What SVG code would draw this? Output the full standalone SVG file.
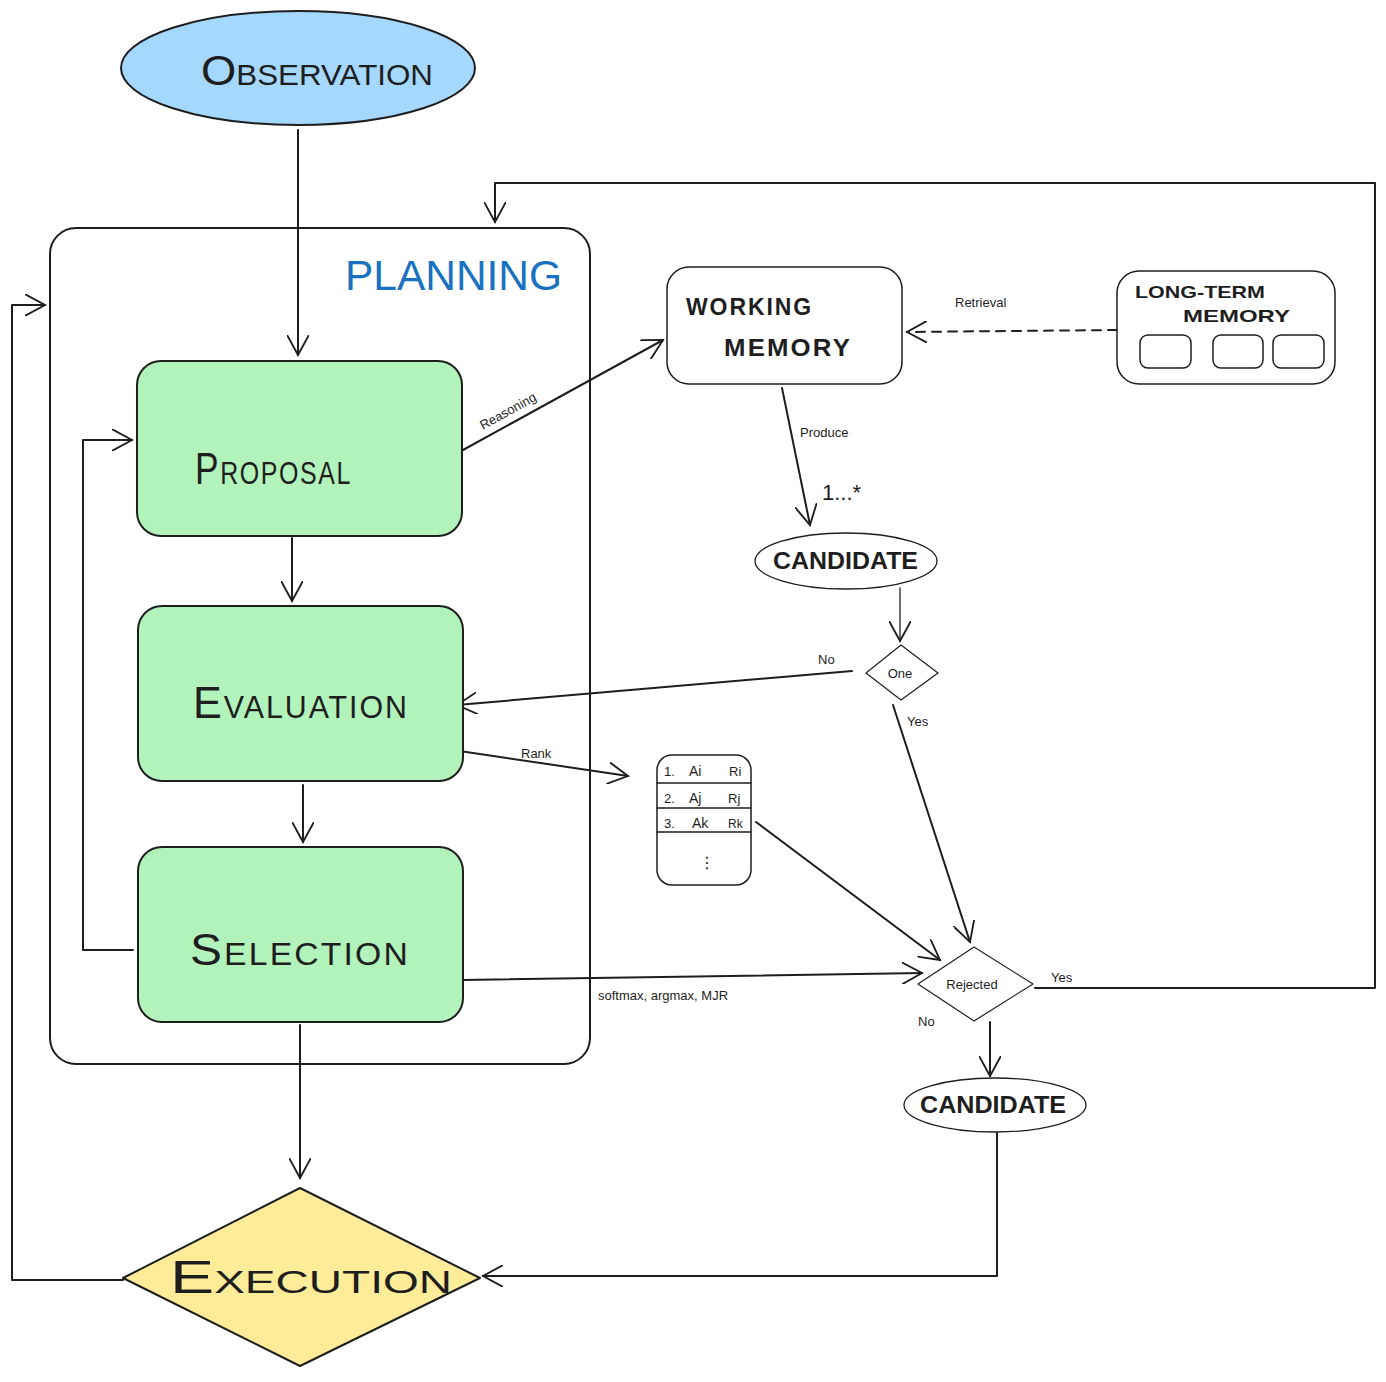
<svg xmlns="http://www.w3.org/2000/svg" width="1386" height="1382" viewBox="0 0 1386 1382">
<style>
.ln{fill:none;stroke:#1e1e1e;stroke-width:2;stroke-linecap:round;stroke-linejoin:round}
.thin{fill:none;stroke:#1e1e1e;stroke-width:1.3;stroke-linecap:round;stroke-linejoin:round}
.dash{stroke-dasharray:9 7}
.box{fill:#b2f2bb;stroke:#1e1e1e;stroke-width:2}
.wbox{fill:#ffffff;stroke:#1e1e1e;stroke-width:1.5}
.t{font-family:"Liberation Sans","DejaVu Sans",sans-serif;fill:#1e1e1e}
.big{font-size:44px;font-variant:small-caps;letter-spacing:2px}
.mid{font-size:24px;font-weight:bold;letter-spacing:2px}
.sm{font-size:13px}
</style>
<defs>
<marker id="ah" viewBox="0 0 12 12" refX="11" refY="6" markerWidth="12" markerHeight="12" markerUnits="userSpaceOnUse" orient="auto">
<path d="M0,0 L11,6 L0,12" fill="none" stroke="#1e1e1e" stroke-width="1.6"/>
</marker>
<marker id="ahb" viewBox="0 0 12 12" refX="11" refY="6" markerWidth="22" markerHeight="22" markerUnits="userSpaceOnUse" orient="auto">
<path d="M0,0 L11,6 L0,12" fill="none" stroke="#1e1e1e" stroke-width="1"/>
</marker>
</defs>

<g id="connectors">
<path class="ln" d="M298,130 L298,355" marker-end="url(#ahb)"/>
<path class="ln" d="M292,538 L292,601" marker-end="url(#ahb)"/>
<path class="ln" d="M303,785 L303,842" marker-end="url(#ahb)"/>
<path class="ln" d="M133,950 L83,950 L83,440 L132,440" marker-end="url(#ahb)"/>
<path class="ln" d="M300,1025 L300,1178" marker-end="url(#ahb)"/>
<path class="ln" d="M123,1280 L12,1280 L12,305 L45,305" marker-end="url(#ahb)"/>
<path class="ln" d="M1035,988 L1375,988 L1375,183 L495,183 L495,222" marker-end="url(#ahb)"/>
<path class="ln" d="M463,450 L663,340" marker-end="url(#ahb)"/>
<path class="ln dash" d="M1117,330 L907,332" marker-end="url(#ahb)"/>
<path class="ln" d="M782,388 L810,525" marker-end="url(#ahb)"/>
<path class="thin" d="M900,588 L900,641" marker-end="url(#ahb)"/>
<path class="ln" d="M852,671 L457,705" marker-end="url(#ahb)"/>
<path class="ln" d="M893,705 L970,942" marker-end="url(#ahb)"/>
<path class="ln" d="M453,750 L628,776" marker-end="url(#ahb)"/>
<path class="ln" d="M756,822 L940,960" marker-end="url(#ahb)"/>
<path class="ln" d="M463,980 L922,973" marker-end="url(#ahb)"/>
<path class="ln" d="M990,1022 L990,1076" marker-end="url(#ahb)"/>
<path class="ln" d="M997,1133 L997,1276 L483,1276" marker-end="url(#ahb)"/>
<text class="t sm" transform="translate(483,430) rotate(-29)">Reasoning</text>
<text class="t sm" x="955" y="307">Retrieval</text>
<text class="t sm" x="800" y="437">Produce</text>
<text class="t" x="822" y="500" font-size="22">1...*</text>
<text class="t sm" x="818" y="664" font-size="11">No</text>
<text class="t sm" x="907" y="726" font-size="11">Yes</text>
<text class="t sm" x="521" y="758" font-size="12">Rank</text>
<text class="t sm" x="598" y="1000" font-size="12">softmax, argmax, MJR</text>
<text class="t sm" x="1051" y="982" font-size="12">Yes</text>
<text class="t sm" x="918" y="1026" font-size="11">No</text>
</g>

<g id="observation">
<ellipse cx="298" cy="68" rx="177" ry="57" fill="#a5d8ff" stroke="#1e1e1e" stroke-width="2"/>
<text class="t" x="317" y="85" text-anchor="middle" font-size="42" font-variant="small-caps" textLength="232" lengthAdjust="spacingAndGlyphs">Observation</text>
</g>

<g id="planning">
<rect x="50" y="228" width="540" height="836" rx="26" fill="none" stroke="#1e1e1e" stroke-width="2"/>
<text class="t" x="345" y="290" font-size="42" fill="#1971c2" style="fill:#1971c2" textLength="217" lengthAdjust="spacingAndGlyphs">PLANNING</text>
</g>

<g id="proposal">
<rect class="box" x="137" y="361" width="325" height="175" rx="24"/>
<text class="t big" x="195" y="484" textLength="157" lengthAdjust="spacingAndGlyphs">Proposal</text>
</g>

<g id="evaluation">
<rect class="box" x="138" y="606" width="325" height="175" rx="24"/>
<text class="t big" x="193" y="718" textLength="216" lengthAdjust="spacingAndGlyphs">Evaluation</text>
</g>

<g id="selection">
<rect class="box" x="138" y="847" width="325" height="175" rx="24"/>
<text class="t big" x="190" y="965" textLength="220" lengthAdjust="spacingAndGlyphs">Selection</text>
</g>

<g id="execution">
<polygon points="123,1278 300,1188 480,1278 300,1366" fill="#ffec99" stroke="#1e1e1e" stroke-width="2" stroke-linejoin="round"/>
<text class="t" x="170" y="1293" font-size="46" font-variant="small-caps" textLength="282" lengthAdjust="spacingAndGlyphs">Execution</text>
</g>

<g id="working-memory">
<rect class="wbox" x="667" y="267" width="235" height="117" rx="22"/>
<text class="t mid" x="686" y="315" textLength="127" lengthAdjust="spacingAndGlyphs">WORKING</text>
<text class="t mid" x="724" y="356" textLength="128" lengthAdjust="spacingAndGlyphs">MEMORY</text>
</g>

<g id="long-term-memory">
<rect class="wbox" x="1117" y="271" width="218" height="113" rx="22"/>
<text class="t" x="1135" y="298" font-size="17" font-weight="bold" textLength="130" lengthAdjust="spacingAndGlyphs">LONG-TERM</text>
<text class="t" x="1183" y="322" font-size="17" font-weight="bold" textLength="107" lengthAdjust="spacingAndGlyphs">MEMORY</text>
<rect class="wbox" x="1140" y="335" width="51" height="33" rx="8"/>
<rect class="wbox" x="1213" y="335" width="50" height="33" rx="8"/>
<rect class="wbox" x="1273" y="335" width="51" height="33" rx="8"/>
</g>

<g id="candidate-1">
<ellipse cx="846" cy="561" rx="91" ry="28" fill="#ffffff" stroke="#1e1e1e" stroke-width="1.3"/>
<text class="t" x="773" y="569" font-size="23" font-weight="bold" textLength="145" lengthAdjust="spacingAndGlyphs">CANDIDATE</text>
</g>

<g id="one-decision">
<polygon points="866,673 901,645 938,673 901,700" fill="#ffffff" stroke="#1e1e1e" stroke-width="1.2" stroke-linejoin="round"/>
<text class="t" x="900" y="678" font-size="13" text-anchor="middle">One</text>
</g>

<g id="rank-table">
<rect class="wbox" x="657" y="755" width="94" height="130" rx="15" stroke-width="1.2"/>
<path class="thin" d="M657,783 L751,783 M657,808 L751,808 M657,832 L751,832"/>
<text class="t" x="664" y="776" font-size="13">1.</text>
<text class="t" x="689" y="776" font-size="14">Ai</text>
<text class="t" x="729" y="776" font-size="13">Ri</text>
<text class="t" x="664" y="803" font-size="13">2.</text>
<text class="t" x="689" y="803" font-size="14">Aj</text>
<text class="t" x="728" y="803" font-size="13">Rj</text>
<text class="t" x="664" y="828" font-size="13">3.</text>
<text class="t" x="692" y="828" font-size="14">Ak</text>
<text class="t" x="728" y="828" font-size="12">Rk</text>
<text class="t" x="699" y="868" font-size="16">⋮</text>
</g>

<g id="rejected-decision">
<polygon points="918,984 974,947 1033,984 974,1021" fill="#ffffff" stroke="#1e1e1e" stroke-width="1.2" stroke-linejoin="round"/>
<text class="t" x="972" y="989" font-size="13" text-anchor="middle">Rejected</text>
</g>

<g id="candidate-2">
<ellipse cx="995" cy="1105" rx="91" ry="27" fill="#ffffff" stroke="#1e1e1e" stroke-width="1.3"/>
<text class="t" x="920" y="1113" font-size="23" font-weight="bold" textLength="146" lengthAdjust="spacingAndGlyphs">CANDIDATE</text>
</g>
</svg>
